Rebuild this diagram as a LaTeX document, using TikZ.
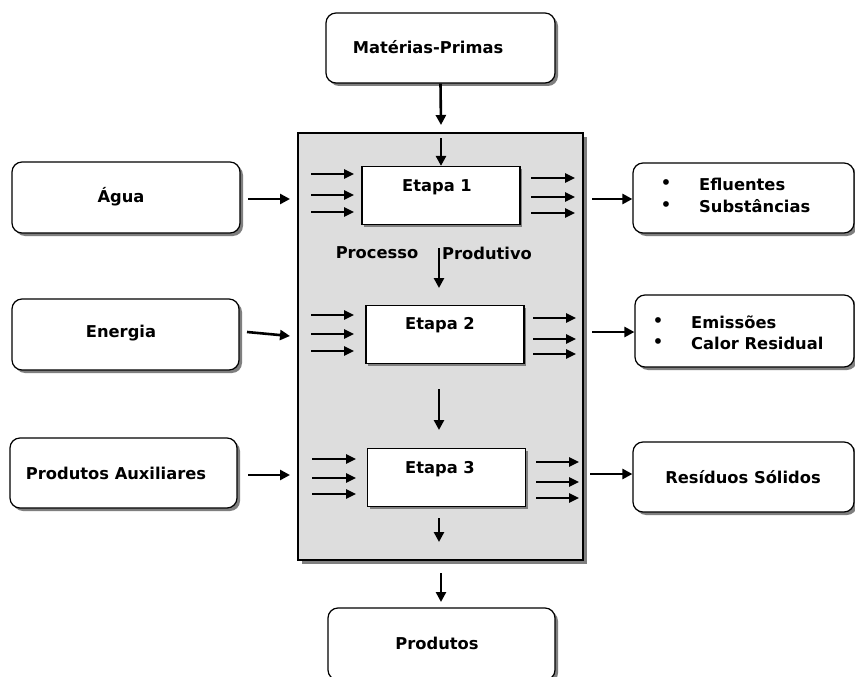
\documentclass[tikz,border=0pt]{standalone}
\usepackage{fontspec}
\setmainfont{DejaVu Sans}
\usetikzlibrary{shadows,arrows.meta}
\definecolor{shadowgray}{HTML}{7F7F7F}
\definecolor{procgray}{HTML}{DDDDDD}
\begin{document}
\begin{tikzpicture}[x=1pt,y=-1pt,
  shad/.style={drop shadow={shadow xshift=3pt,shadow yshift=-3pt,fill=shadowgray,opacity=1}},
  rbox/.style={draw=black,line width=1.2pt,fill=white,rounded corners=10pt,shad,inner sep=0pt},
  etbox/.style={draw=black,line width=1.2pt,fill=white,inner sep=0pt,
     drop shadow={shadow xshift=2pt,shadow yshift=-2pt,fill=shadowgray,opacity=1},
     minimum width=158pt,minimum height=58pt},
  procbox/.style={draw=black,line width=1.2pt,fill=procgray,inner sep=0pt,
     drop shadow={shadow xshift=4pt,shadow yshift=-4pt,fill=shadowgray,opacity=1}},
  txt/.style={font=\bfseries\fontsize{16.3}{19}\selectfont,inner sep=0pt},
  ltxt/.style={txt,anchor=west},
  arr/.style={line width=2.6pt,-{Triangle[length=10pt,width=10pt]}},
  sarr/.style={line width=2.4pt,-{Triangle[length=10pt,width=9pt]}}
]
\useasboundingbox (0,0) rectangle (855,677);
\fill[white] (0,0) rectangle (855,677);

% central process box
\node[procbox,minimum width=285pt,minimum height=427pt] (proc) at (440.5,346.5) {};

% outer boxes
\node[rbox,minimum width=229pt,minimum height=70pt] (mp) at (440.5,48) {};
\node[rbox,minimum width=228pt,minimum height=71pt] (agua) at (126,197.5) {};
\node[rbox,minimum width=227pt,minimum height=71pt] (ener) at (125.5,334.5) {};
\node[rbox,minimum width=227pt,minimum height=70pt] (paux) at (123.5,473) {};
\node[rbox,minimum width=221pt,minimum height=70pt] (eflu) at (743.5,198) {};
\node[rbox,minimum width=219pt,minimum height=72pt] (emis) at (744.5,331) {};
\node[rbox,minimum width=221pt,minimum height=70pt] (resi) at (743.5,477) {};
\node[rbox,minimum width=227pt,minimum height=72pt] (prod) at (441.5,644) {};

% stage boxes
\node[etbox] (e1) at (441,195.5) {};
\node[etbox] (e2) at (445,334.5) {};
\node[etbox] (e3) at (446.5,477.5) {};

% texts
\node[txt] (tmp) at (428,47) {Matérias-Primas};
\node[txt] (tag) at (121,197) {Água};
\node[txt] (ten) at (121,333) {Energia};
\node[txt] (tpa) at (116,473) {Produtos Auxiliares};
\node[txt] (te1) at (437,187) {Etapa 1};
\node[txt] (te2) at (440,325) {Etapa 2};
\node[txt] (te3) at (440,469) {Etapa 3};
\node[txt] (tproc) at (377,253) {Processo};
\node[txt] (tprodu) at (487,253) {Produtivo};
\node[txt] (tprod) at (437,643) {Produtos};
\node[txt] (tres) at (743,477) {Resíduos Sólidos};
\node[txt] (b1) at (666,184) {•};
\node[txt] (b2) at (666,206) {•};
\node[ltxt] (tefl) at (699,184) {Efluentes};
\node[ltxt] (tsub) at (699,206) {Substâncias};
\node[txt] (b3) at (658,322) {•};
\node[txt] (b4) at (658,343) {•};
\node[ltxt] (temi) at (691,322) {Emissões};
\node[ltxt] (tcal) at (691,343) {Calor Residual};

% coordinates for free arrow ends
\coordinate (mpend) at (441,125);
\coordinate (in1) at (441,138);
\coordinate (aguas) at (248,199);
\coordinate (aguae) at (290,199);
\coordinate (eners) at (247,332);
\coordinate (enere) at (290,336);
\coordinate (paus) at (248,475);
\coordinate (paue) at (290,475);
\coordinate (r1) at (592,199);
\coordinate (r2) at (592,332);
\coordinate (r3) at (590,474);
\coordinate (d1s) at (439,248);
\coordinate (d1e) at (439,288);
\coordinate (d2s) at (439,389);
\coordinate (d2e) at (439,430);
\coordinate (d3s) at (439,518);
\coordinate (d3e) at (439,542);
\coordinate (outs) at (441,573);
\coordinate (oute) at (441,602);

% main arrows
\draw[arr] (mp.south) -- (mpend);
\draw[arr] (in1) -- (e1.north);
\draw[arr] (aguas) -- (aguae);
\draw[arr] (eners) -- (enere);
\draw[arr] (paus) -- (paue);
\draw[arr] (r1) -- (r1 -| eflu.west);
\draw[arr] (r2) -- (r2 -| emis.west);
\draw[arr] (r3) -- (r3 -| resi.west);
\draw[arr] (d1s) -- (d1e);
\draw[arr] (d2s) -- (d2e);
\draw[arr] (d3s) -- (d3e);
\draw[arr] (outs) -- (oute);

% small inner arrows
\foreach \y in {174,195,212} \draw[sarr] (311,\y) -- (354,\y);
\foreach \y in {178,197,213} \draw[sarr] (531,\y) -- (575,\y);
\foreach \y in {315,334,351} \draw[sarr] (311,\y) -- (354,\y);
\foreach \y in {318,339,354} \draw[sarr] (533,\y) -- (576,\y);
\foreach \y in {459,478,494} \draw[sarr] (312,\y) -- (356,\y);
\foreach \y in {462,482,498} \draw[sarr] (536,\y) -- (579,\y);
\end{tikzpicture}
\end{document}
